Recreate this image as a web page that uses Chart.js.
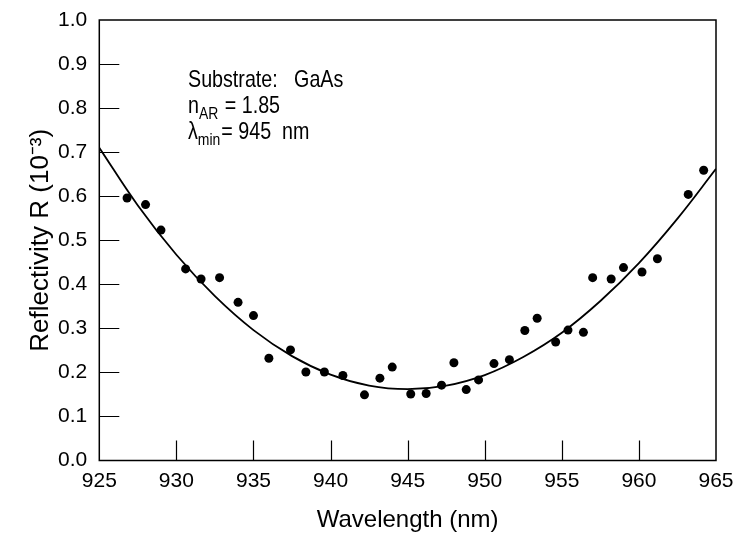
<!DOCTYPE html>
<html>
<head>
<meta charset="utf-8">
<script src="https://cdn.jsdelivr.net/npm/chart.js@4"></script>
<style>
  html, body { margin: 0; padding: 0; background: #fff; }
  #wrap { width: 734px; height: 537px; }
</style>
</head>
<body>
<div id="wrap"><canvas id="RChart" width="734" height="537"></canvas></div>
<script>
// measured points (wavelength nm, reflectivity in 10^-3)
const wavelengths = [926.8, 928.0, 929.0, 930.6, 931.6, 932.8, 934.0, 935.0, 936.0, 937.4, 938.4, 939.6,
  940.8, 942.2, 943.2, 944.0, 945.2, 946.2, 947.2, 948.0, 948.8, 949.6, 950.6, 951.6,
  952.6, 953.4, 954.6, 955.4, 956.4, 957.0, 958.2, 959.0, 960.2, 961.2, 963.2, 964.2];
const reflectivity = [0.596, 0.581, 0.523, 0.435, 0.412, 0.415, 0.359, 0.329, 0.232, 0.251, 0.201, 0.201,
  0.193, 0.149, 0.187, 0.212, 0.151, 0.152, 0.171, 0.222, 0.161, 0.183, 0.220, 0.229,
  0.295, 0.323, 0.269, 0.296, 0.291, 0.415, 0.412, 0.438, 0.428, 0.458, 0.604, 0.659];

// fitted curve
const fitWavelengths = [925, 927.5, 930, 932.5, 935, 937.5, 940, 942.5, 945, 947.5, 950, 952.5, 955, 957.5, 960, 962.5, 965];
const fitReflectivity = [0.710, 0.579, 0.467, 0.373, 0.296, 0.237, 0.195, 0.170, 0.162, 0.170, 0.194, 0.235, 0.290, 0.362, 0.448, 0.549, 0.662];

const xTicks = [925, 930, 935, 940, 945, 950, 955, 960, 965];
const yTicks = [0, 0.1, 0.2, 0.3, 0.4, 0.5, 0.6, 0.7, 0.8, 0.9, 1.0];

const FONT = "'Liberation Sans', Arial, sans-serif";

const pts = wavelengths.map((w, i) => ({ x: w, y: reflectivity[i] }));
const fit = fitWavelengths.map((w, i) => ({ x: w, y: fitReflectivity[i] }));

// draws text with a horizontal squeeze so it looks like the narrow plotter font
function narrowText(ctx, str, x, y, size, sx) {
  ctx.save();
  ctx.font = size + 'px ' + FONT;
  ctx.translate(x, y);
  ctx.scale(sx, 1);
  ctx.fillText(str, 0, 0);
  const w = ctx.measureText(str).width * sx;
  ctx.restore();
  return w;
}

// frame, inward ticks and the text block
const framePlugin = {
  id: 'frame',
  afterDraw(chart) {
    const { ctx, chartArea: a, scales } = chart;
    ctx.save();
    ctx.strokeStyle = '#000';
    ctx.lineWidth = 1.5;
    ctx.strokeRect(a.left, a.top, a.right - a.left, a.bottom - a.top);
    ctx.lineWidth = 1.2;
    ctx.beginPath();
    xTicks.slice(1, -1).forEach(v => {
      const px = Math.round(scales.x.getPixelForValue(v)) + 0.5;
      ctx.moveTo(px, a.bottom); ctx.lineTo(px, a.bottom - 20);
    });
    yTicks.slice(1, -1).forEach(v => {
      const py = Math.round(scales.y.getPixelForValue(v)) + 0.5;
      ctx.moveTo(a.left, py); ctx.lineTo(a.left + 20, py);
    });
    ctx.stroke();

    // annotation
    ctx.fillStyle = '#000';
    ctx.textBaseline = 'alphabetic';
    const sx = 0.82, big = 24, small = 17;
    let x = 188;
    narrowText(ctx, 'Substrate:   GaAs', x, 87, big, sx);

    x += narrowText(ctx, 'n', x, 113, big, sx);
    x += narrowText(ctx, 'AR', x, 119, small, sx);
    narrowText(ctx, ' = 1.85', x + 1, 113, big, sx);

    x = 188;
    x += narrowText(ctx, 'λ', x, 139, big, sx);
    x += narrowText(ctx, 'min', x, 145, small, sx);
    narrowText(ctx, '= 945  nm', x + 1, 139, big, sx);
    ctx.restore();
  }
};

new Chart(document.getElementById('RChart'), {
  type: 'scatter',
  data: {
    datasets: [
      {
        label: 'data',
        data: pts,
        pointRadius: 4.5,
        pointBackgroundColor: '#000',
        pointBorderWidth: 0,
        showLine: false
      },
      {
        label: 'fit',
        data: fit,
        showLine: true,
        borderColor: '#000',
        borderWidth: 1.8,
        pointRadius: 0,
        tension: 0.4,
        fill: false
      }
    ]
  },
  options: {
    responsive: false,
    animation: false,
    layout: { padding: { top: 20, right: 0, left: 0, bottom: 0 } },
    plugins: {
      legend: { display: false },
      tooltip: { enabled: false }
    },
    scales: {
      x: {
        type: 'linear',
        min: 925,
        max: 965,
        afterFit: s => { s.height = 76.5; s.paddingLeft = 0; s.paddingRight = 18; },
        afterBuildTicks: s => { s.ticks = xTicks.map(v => ({ value: v })); },
        grid: { display: false, drawTicks: false },
        border: { display: false },
        ticks: { color: '#000', padding: 8, font: { family: FONT, size: 21 }, maxRotation: 0 },
        title: { display: true, text: 'Wavelength (nm)', color: '#000', font: { family: FONT, size: 24 }, padding: { bottom: 2 } }
      },
      y: {
        min: 0,
        max: 1,
        afterFit: s => { s.width = 99.3; s.paddingTop = 0; s.paddingBottom = 0; },
        afterBuildTicks: s => { s.ticks = yTicks.map(v => ({ value: v })); },
        grid: { display: false, drawTicks: false },
        border: { display: false },
        ticks: { color: '#000', padding: 12, font: { family: FONT, size: 21 }, callback: v => v.toFixed(1) },
        title: { display: true, text: 'Reflectivity R (10⁻³)', color: '#000', font: { family: FONT, size: 26 }, padding: { top: 25 } }
      }
    }
  },
  plugins: [framePlugin]
});
</script>
</body>
</html>
